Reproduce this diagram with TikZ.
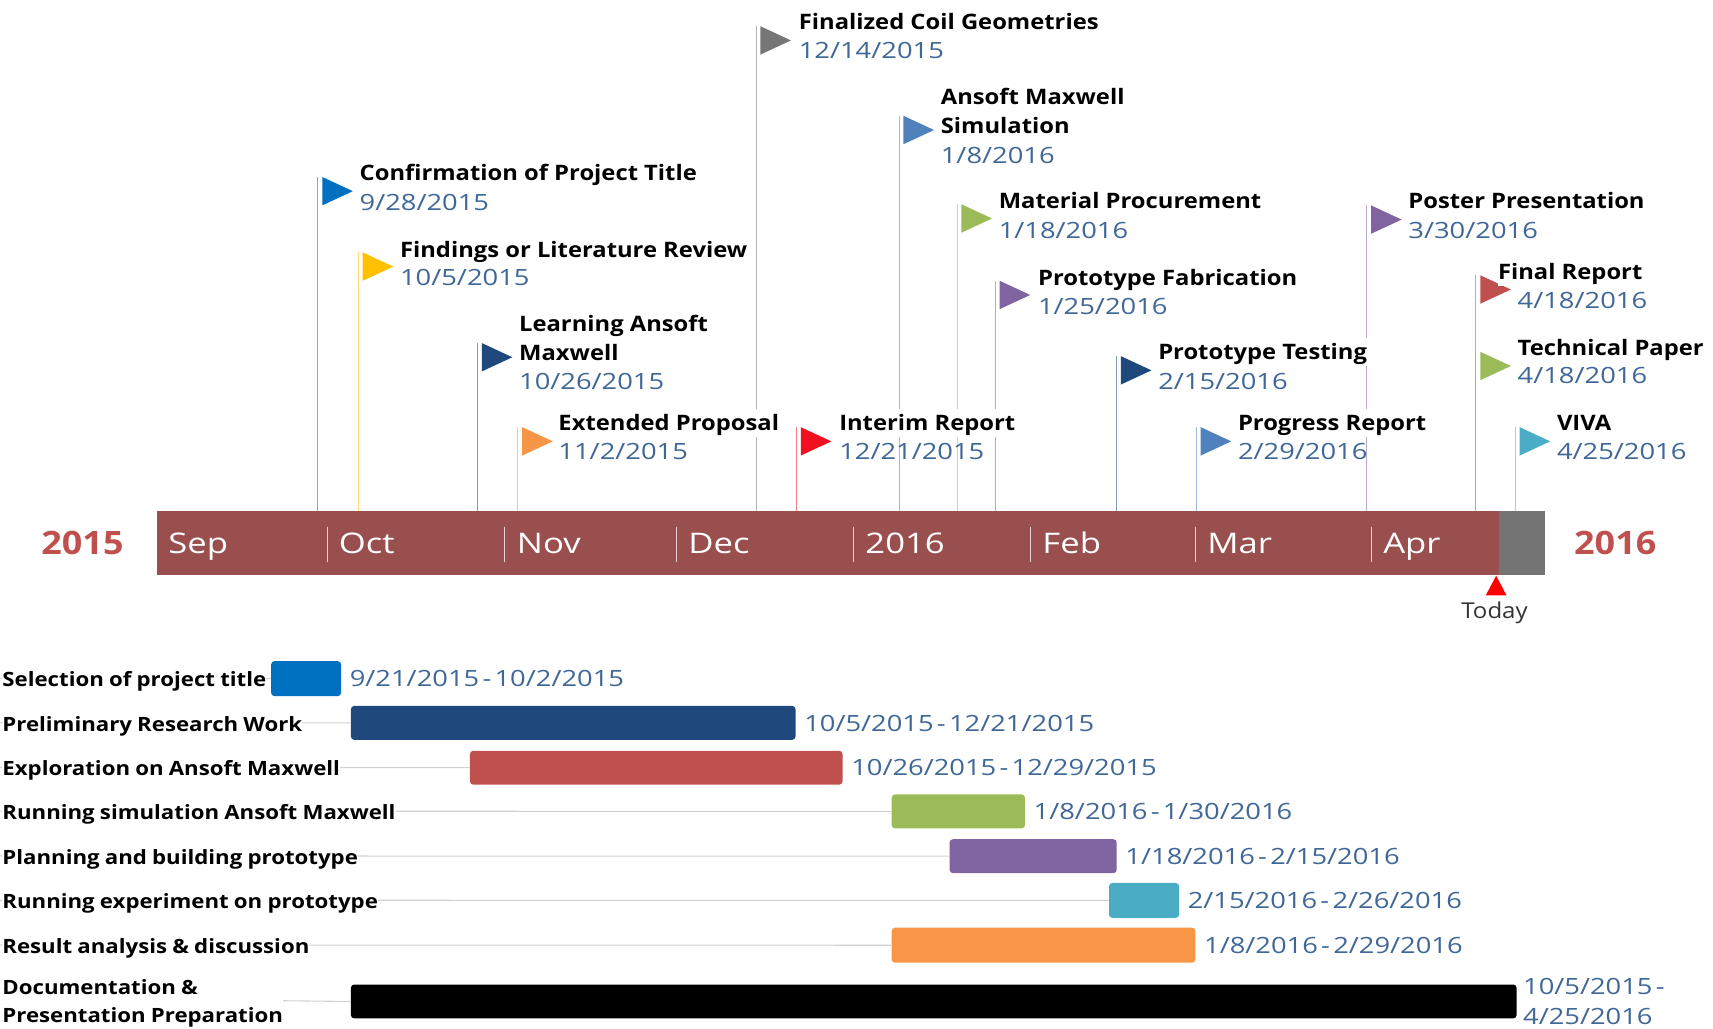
\documentclass[tikz,border=0pt]{standalone}
\usepackage{fontspec}
\setmainfont{Open Sans}
\newfontfamily\ftitlefam[FakeStretch=1.116]{Open Sans}
\newfontfamily\fdatefam[FakeStretch=1.22]{Open Sans}
\newfontfamily\monthfam[FakeStretch=1.22]{Open Sans}
\newfontfamily\yearfam[FakeStretch=1.115]{Open Sans}
\newfontfamily\glabelfam[FakeStretch=1.13,WordSpace=0.9]{Open Sans}
\newfontfamily\todayfam[FakeStretch=1.1]{Open Sans}
\newcommand\gdash{\hspace{3pt}-\hspace{3pt}}
\definecolor{barbrown}{HTML}{9A4F4F}
\definecolor{bargray}{HTML}{737373}
\definecolor{yearred}{HTML}{C0504D}
\definecolor{datec}{HTML}{3F6797}
\definecolor{cblue}{HTML}{0070C0}
\definecolor{cyellow}{HTML}{FFC000}
\definecolor{cnavy}{HTML}{1F497D}
\definecolor{corange}{HTML}{F79646}
\definecolor{cgray}{HTML}{767676}
\definecolor{cred}{HTML}{F01020}
\definecolor{clblue}{HTML}{4F81BD}
\definecolor{cgreen}{HTML}{9BBB59}
\definecolor{cpurple}{HTML}{8064A2}
\definecolor{cbrick}{HTML}{C0504D}
\definecolor{cteal}{HTML}{4BACC6}
\tikzset{
  x=1pt,y=-1pt,
  stem/.style={line width=0.9pt,draw opacity=0.55},
  ftitle/.style={anchor=west,inner sep=0pt,fill=white,text height=20pt,text depth=5.5pt,font=\fontsize{19.5}{19.5}\ftitlefam\bfseries,text=black},
  fdate/.style={anchor=west,inner sep=0pt,text height=20pt,text depth=4.5pt,font=\fontsize{20.5}{20.5}\fdatefam,text=datec},
  month/.style={anchor=west,inner sep=0pt,text height=25pt,text depth=5.5pt,font=\fontsize{26}{26}\monthfam,text=white},
  year/.style={anchor=center,inner sep=0pt,font=\fontsize{29.5}{29.5}\yearfam\bfseries,text=yearred},
  sep/.style={draw=white!75!barbrown,line width=0.7pt},
  gbar/.style={rectangle,rounded corners=3pt,inner sep=0pt,anchor=north west},
  grid/.style={draw=black!18,line width=1pt},
  glabel/.style={anchor=west,inner sep=0pt,fill=white,text height=20pt,text depth=4.5pt,font=\fontsize{18}{18}\glabelfam\bfseries,text=black},
  gdate/.style={anchor=west,inner sep=0pt,text height=20pt,text depth=4.5pt,font=\fontsize{20.5}{20.5}\fdatefam,text=datec},
}
\newcommand\flagmark[4]{%
  \coordinate (#1top) at (#2,#3);
  \coordinate (#1base) at (#2,468);
  \draw[stem,draw=#4] (#1top) -- (#1base);
  \fill[#4] ($(#1top)+(4,0)$) -- ($(#1top)+(32,13)$) -- ($(#1top)+(4,26)$) -- cycle;
}
\newcommand\gantt[8]{%
  \node[gbar,fill=#6,minimum width=#3-#2,minimum height=#5-#4] (#1bar) at (#2,#4) {};
  \coordinate (#1start) at (0,{(#4+#5)/2});
  \draw[grid] (#1start) -- (#1bar.west);
  \node[glabel] (#1label) at (2,{(#4+#5)/2}) {#7};
  \node[gdate] (#1date) at (#3+8,{(#4+#5)/2}) {#8};
}
\usetikzlibrary{calc}
\begin{document}
\begin{tikzpicture}
\useasboundingbox (0,0) rectangle (1568,941);
% stems and flags
\flagmark{a}{291}{162}{cblue}
\flagmark{b}{328}{231}{cyellow}
\flagmark{c}{437}{314}{cnavy}
\flagmark{d}{474}{391}{corange}
\flagmark{e}{692}{24}{cgray}
\flagmark{f}{729}{391}{cred}
\flagmark{g}{823}{106}{clblue}
\flagmark{h}{876}{187}{cgreen}
\flagmark{i}{911}{257}{cpurple}
\flagmark{j}{1022}{326}{cnavy}
\flagmark{k}{1095}{391}{clblue}
\flagmark{l}{1251}{188}{cpurple}
\flagmark{m}{1351}{252}{cbrick}
\flagmark{n}{1351}{322}{cgreen}
\flagmark{o}{1387}{391}{cteal}
% flag texts
\node[ftitle] (at) at (329,158) {Confirmation of Project Title};
\node[fdate] (ad) at (329,185) {9/28/2015};
\node[ftitle] (bt) at (366,228) {Findings or Literature Review};
\node[fdate] (bd) at (366,254) {10/5/2015};
\node[ftitle] (ct1) at (475,296) {Learning Ansoft};
\node[ftitle] (ct2) at (475,323) {Maxwell};
\node[fdate] (cd) at (475,349) {10/26/2015};
\node[ftitle] (dt) at (511,387) {Extended Proposal};
\node[fdate] (dd) at (511,413) {11/2/2015};
\node[ftitle] (et) at (731,20) {Finalized Coil Geometries};
\node[fdate] (ed) at (731,46) {12/14/2015};
\node[ftitle] (ft) at (768,387) {Interim Report};
\node[fdate] (fd) at (768,413) {12/21/2015};
\node[ftitle] (gt1) at (861,88) {Ansoft Maxwell};
\node[ftitle] (gt2) at (861,115) {Simulation};
\node[fdate] (gd) at (861,142) {1/8/2016};
\node[ftitle] (ht) at (914,184) {Material Procurement};
\node[fdate] (hd) at (914,211) {1/18/2016};
\node[ftitle] (it) at (950,254) {Prototype Fabrication};
\node[fdate] (id) at (950,280) {1/25/2016};
\node[ftitle] (jt) at (1060,322) {Prototype Testing};
\node[fdate] (jd) at (1060,349) {2/15/2016};
\node[ftitle] (kt) at (1133,387) {Progress Report};
\node[fdate] (kd) at (1133,413) {2/29/2016};
\node[ftitle] (lt) at (1289,184) {Poster Presentation};
\node[fdate] (ld) at (1289,211) {3/30/2016};
\node[ftitle] (mt) at (1371,249) {Final Report};
\node[fdate] (md) at (1389,275) {4/18/2016};
\node[ftitle] (nt) at (1389,318) {Technical Paper};
\node[fdate] (nd) at (1389,343) {4/18/2016};
\node[ftitle] (ot) at (1425,387) {VIVA};
\node[fdate] (od) at (1425,413) {4/25/2016};
% time bar
\fill[barbrown] (144,468) rectangle (1372,526);
\fill[bargray] (1372,468) rectangle (1414,526);
\foreach \sx in {300,462,619,781,943,1094,1255} \draw[sep] (\sx,482) -- (\sx,514);
\node[month] (sep) at (154,497) {Sep};
\node[month] (oct) at (310,497) {Oct};
\node[month] (nov) at (473,497) {Nov};
\node[month] (dec) at (630,497) {Dec};
\node[month] (y16) at (792,497) {2016};
\node[month] (feb) at (954,497) {Feb};
\node[month] (mar) at (1105,497) {Mar};
\node[month] (apr) at (1266,497) {Apr};
\node[year] (y2015) at (75.5,497) {2015};
\node[year] (y2016) at (1478.5,497) {2016};
\fill[red] (1360,545) -- (1369.5,527) -- (1379,545) -- cycle;
\node[anchor=center,inner sep=0pt,font=\fontsize{20}{20}\todayfam,text=black!80] (today) at (1368,561) {Today};
% gantt
\gantt{p}{248}{312}{605}{637}{cblue}{Selection of project title}{9/21/2015\gdash 10/2/2015}
\gantt{q}{321}{728}{646}{677}{cnavy}{Preliminary Research Work}{10/5/2015\gdash 12/21/2015}
\gantt{r}{430}{771}{687}{718}{cbrick}{Exploration on Ansoft Maxwell}{10/26/2015\gdash 12/29/2015}
\gantt{s}{816}{938}{727}{758}{cgreen}{Running simulation Ansoft Maxwell}{1/8/2016\gdash 1/30/2016}
\gantt{t}{869}{1022}{768}{799}{cpurple}{Planning and building prototype}{1/18/2016\gdash 2/15/2016}
\gantt{u}{1015}{1079}{808}{840}{cteal}{Running experiment on prototype}{2/15/2016\gdash 2/26/2016}
\gantt{v}{816}{1094}{849}{881}{corange}{Result analysis \& discussion}{1/8/2016\gdash 2/29/2016}
\node[gbar,fill=black,minimum width=1067,minimum height=31] (wbar) at (321,901) {};
\coordinate (wstart) at (256,916);
\draw[grid] (wstart) -- (wbar.west);
\node[glabel] (wl1) at (2,903) {Documentation \&};
\node[glabel] (wl2) at (2,928) {Presentation Preparation};
\node[gdate] (wd1) at (1394,903) {10/5/2015\gdash};
\node[gdate] (wd2) at (1394,930) {4/25/2016};
\end{tikzpicture}
\end{document}
